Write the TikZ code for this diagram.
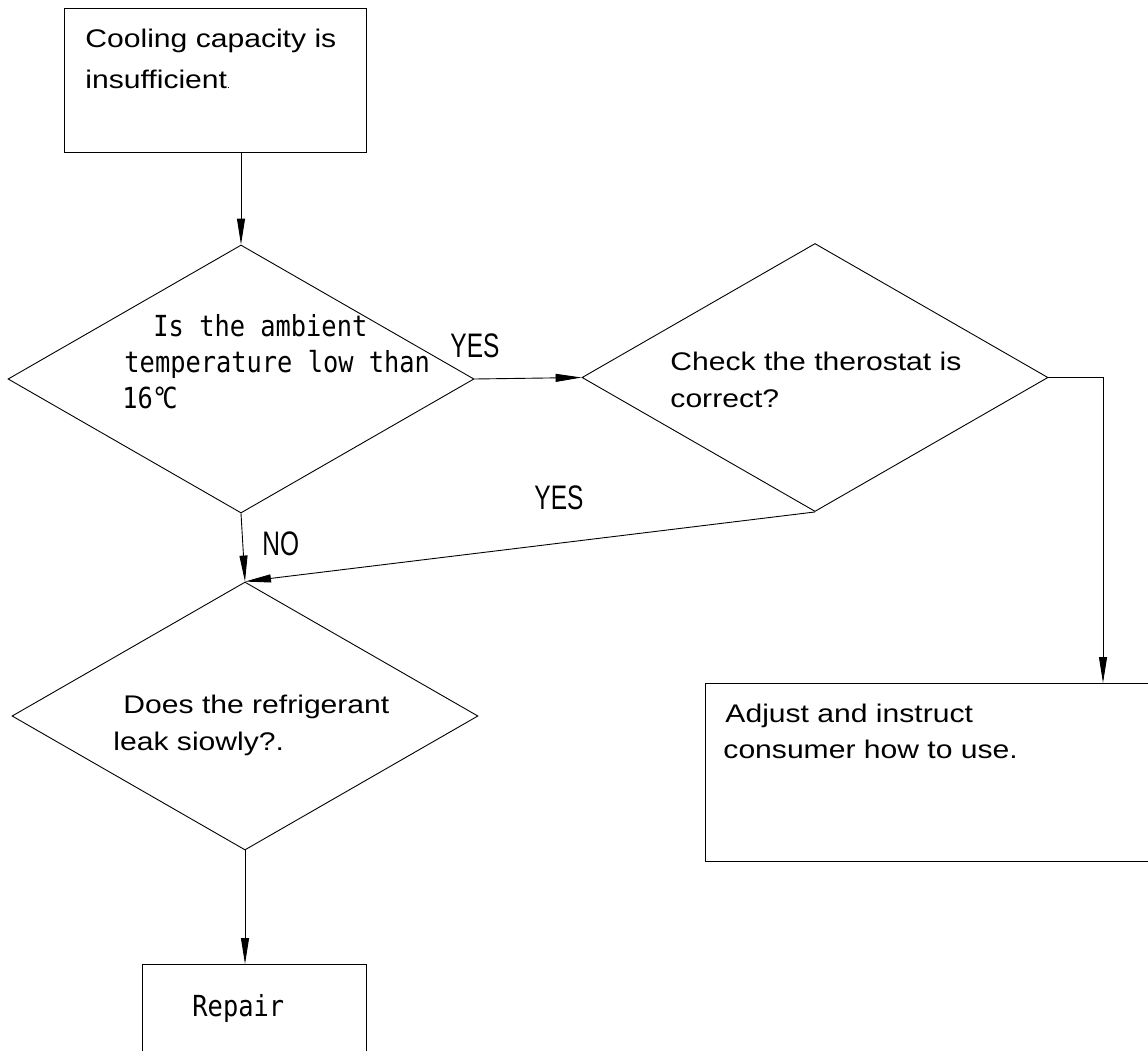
\documentclass[tikz,border=0pt]{standalone}
\usepackage{fontspec}
\usetikzlibrary{shapes.geometric,arrows.meta}
\newfontfamily\arialx[FakeStretch=1.18]{Liberation Sans}
\newfontfamily\cadfont[FakeStretch=0.875]{DejaVu Sans Mono}
\newfontfamily\lblfont[FakeStretch=0.72]{Liberation Sans}
\begin{document}
\begin{tikzpicture}[x=1pt,y=-1pt,
  line width=0.9pt,
  dia/.style={draw, diamond, inner sep=0pt, minimum width=466pt, minimum height=268pt},
  boxst/.style={draw, rectangle, inner sep=0pt, anchor=north west},
  arr/.style={-{Triangle[length=26pt,width=8pt]}},
  atext/.style={anchor=base west, inner sep=0pt, font=\arialx\fontsize{25.5}{30}\selectfont},
  ctext/.style={anchor=base west, inner sep=0pt, font=\cadfont\fontsize{29}{34}\selectfont},
  ltext/.style={anchor=base west, inner sep=0pt, font=\lblfont\fontsize{34}{40}\selectfont}]
\useasboundingbox (0,0) rectangle (1148,1050);
\clip (0,0) rectangle (1148,1050);
\fill[white] (0,0) rectangle (1148,1050);

% boxes
\node[boxst, minimum width=302pt, minimum height=144pt] (b1) at (64,8) {};
\node[boxst, minimum width=470pt, minimum height=178pt] (b2) at (705,683) {};
\node[boxst, minimum width=224pt, minimum height=120pt] (b3) at (142,964) {};

% diamonds
\node[dia] (d1) at (241,379) {};
\node[dia] (d2) at (815,377.5) {};
\node[dia] (d3) at (245,716) {};

% texts
\node[atext] (t1a) at (85,47) {Cooling capacity is};
\node[atext] (t1b) at (85,88) {insufficient{\fontsize{9}{9}\selectfont .}};
\node[ctext] (t2a) at (153,336) {Is the ambient};
\node[ctext] (t2b) at (124,372) {temperature low than};
\node[ctext] (t2c) at (122,408) {16\kern-1pt°\kern-5pt C};
\node[atext] (t3a) at (670,370) {Check the therostat is};
\node[atext] (t3b) at (670,407) {correct?};
\node[atext] (t4a) at (123,713) {Does the refrigerant};
\node[atext] (t4b) at (113,750) {leak siowly?.};
\node[atext] (t5a) at (725,722) {Adjust and instruct};
\node[atext] (t5b) at (723,758) {consumer how to use.};
\node[ctext] (t6) at (192,1016) {Repair};

% labels
\node[ltext] (y1) at (450,357) {YES};
\node[ltext] (y2) at (534,509) {YES};
\node[ltext] (n1) at (262,555) {NO};

% connectors
\coordinate (c1) at (1103,683);
\draw[arr] (b1.south -| d1.north) -- (d1.north);
\draw[arr] (d1.east) -- (d2.west);
\draw[arr] (d1.south) -- (d3.north);
\draw[arr] (d2.south) -- (d3.north);
\draw[arr] (d2.east) -| (c1);
\draw[arr] (d3.south) -- (d3.south |- b3.north);
\end{tikzpicture}
\end{document}
